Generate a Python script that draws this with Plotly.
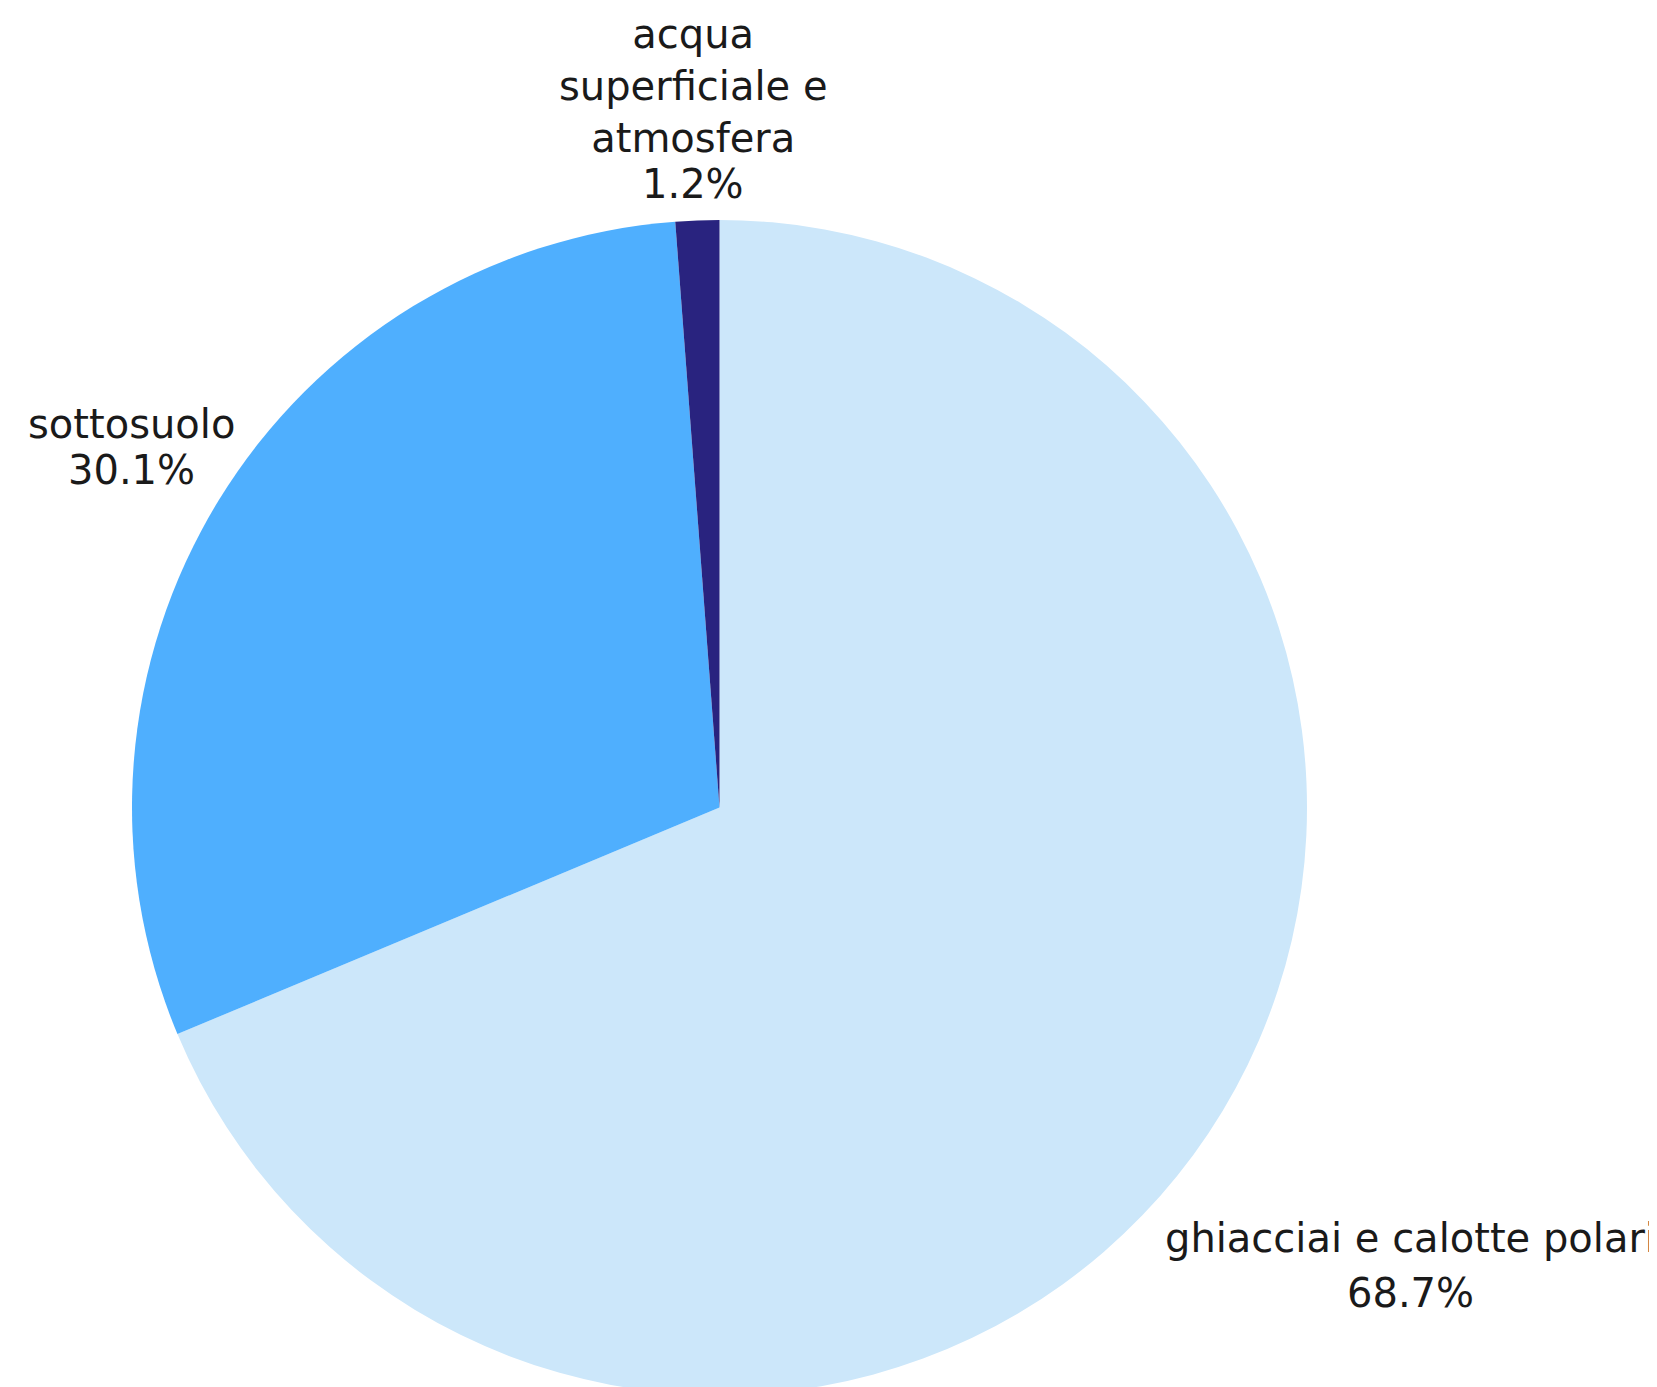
import plotly.graph_objects as go

labels = ["ghiacciai e calotte polari", "sottosuolo", "acqua<br>superficiale e<br>atmosfera"]
values = [68.7, 30.1, 1.2]
colors = ["#CCE7FA", "#4FAFFE", "#29237F"]

# label placement (page pixels): center x, label center y, percent center y
label_pos = [(1410, 1238, 1293), (132, 424, 470), (693, 86, 184)]

W, H = 1657, 1400
OFF = 8  # page body margin
cx, cy, r = 719.5 - OFF, 807.5 - OFF, 587.5

fig = go.Figure(go.Pie(
    labels=labels,
    values=values,
    sort=False,
    direction="clockwise",
    rotation=0,
    marker=dict(colors=colors, line=dict(width=0)),
    textinfo="none",
    hoverinfo="label+percent",
    domain=dict(x=[(cx - r) / W, (cx + r) / W], y=[(H - cy - r) / H, (H - cy + r) / H]),
))

font = dict(family="DejaVu Sans", size=40, color="#1a1a1a")
total = sum(values)
for lab, val, (px, ly, py) in zip(labels, values, label_pos):
    fig.add_annotation(text=lab, x=(px - OFF) / W, y=1 - (ly - OFF) / H,
                       xref="paper", yref="paper", xanchor="center", yanchor="middle",
                       showarrow=False, font=font, align="center")
    fig.add_annotation(text=f"{val / total * 100:.1f}%", x=(px - OFF) / W, y=1 - (py - OFF) / H,
                       xref="paper", yref="paper", xanchor="center", yanchor="middle",
                       showarrow=False, font=font, align="center")

fig.update_layout(
    width=W, height=H,
    margin=dict(l=0, r=0, t=0, b=0),
    showlegend=False,
    paper_bgcolor="white",
    plot_bgcolor="white",
)
fig.write_html("out.html")
